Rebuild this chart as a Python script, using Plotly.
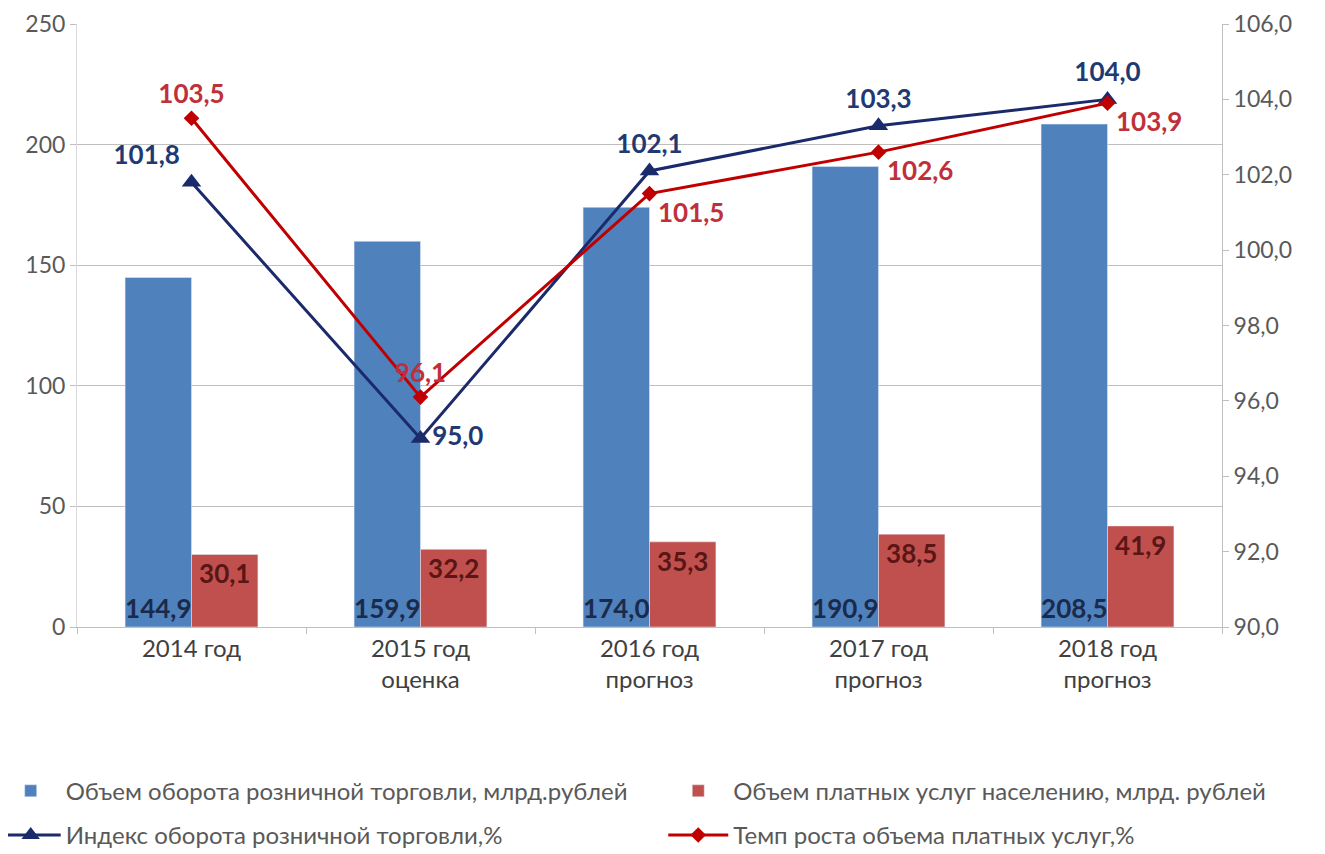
import plotly.graph_objects as go

categories = ["2014 год", "2015 год<br>оценка", "2016 год<br>прогноз", "2017 год<br>прогноз", "2018 год<br>прогноз"]
retail_volume = [144.9, 159.9, 174.0, 190.9, 208.5]
services_volume = [30.1, 32.2, 35.3, 38.5, 41.9]
retail_index = [101.8, 95.0, 102.1, 103.3, 104.0]
services_growth = [103.5, 96.1, 101.5, 102.6, 103.9]

names = [
    "Объем оборота розничной торговли, млрд.рублей",
    "Объем платных услуг населению, млрд. рублей",
    "Индекс оборота розничной торговли,%",
    "Темп роста объема платных услуг,%",
]

def fmt(v):
    return f"{v:.1f}".replace(".", ",")

FONT = "Lato"
LBL = 26
fig = go.Figure()

fig.add_trace(go.Bar(
    x=categories, y=retail_volume, name=names[0],
    legend="legend", legendgroup="a",
    marker=dict(color="#4F81BD"),
    text=[fmt(v) for v in retail_volume], textposition="inside",
    insidetextanchor="start", constraintext="none",
    textfont=dict(family=FONT, size=LBL, color="#1C2A4A", weight="bold"),
    textangle=0, cliponaxis=False,
))
fig.add_trace(go.Bar(
    x=categories, y=services_volume, name=names[1],
    legend="legend2", legendgroup="b",
    marker=dict(color="#C0504D"),
    text=[fmt(v) for v in services_volume], textposition="inside",
    insidetextanchor="end", constraintext="none",
    textfont=dict(family=FONT, size=LBL, color="#5A1515", weight="bold"),
    textangle=0, cliponaxis=False,
))
fig.add_trace(go.Scatter(
    x=categories, y=retail_index, name=names[2], yaxis="y2",
    legend="legend", legendgroup="c",
    mode="lines+markers+text",
    line=dict(color="#1B2A6B", width=3),
    marker=dict(symbol="triangle-up", size=17, color="#1B2A6B"),
    text=[fmt(v) for v in retail_index],
    textposition=["top left", "middle right", "top center", "top center", "top center"],
    textfont=dict(family=FONT, size=LBL, color="#1F3A73", weight="bold"),
    cliponaxis=False,
))
fig.add_trace(go.Scatter(
    x=categories, y=services_growth, name=names[3], yaxis="y2",
    legend="legend2", legendgroup="d",
    mode="lines+markers+text",
    line=dict(color="#C00000", width=3),
    marker=dict(symbol="diamond", size=12, color="#C00000"),
    text=[fmt(v) for v in services_growth],
    textposition=["top center", "top center", "bottom right", "bottom right", "bottom right"],
    textfont=dict(family=FONT, size=LBL, color="#C0303A", weight="bold"),
    cliponaxis=False,
))

legend_common = dict(
    orientation="v", yanchor="top", xanchor="left",
    font=dict(family=FONT, size=24, color="#595959"),
    tracegroupgap=10, itemwidth=60, bgcolor="rgba(0,0,0,0)",
)

fig.update_layout(
    width=1325, height=854,
    margin=dict(l=69, r=111, t=16, b=235, autoexpand=False),
    paper_bgcolor="white", plot_bgcolor="white",
    separators=", ",
    barmode="group", bargap=0.42, bargroupgap=0,
    font=dict(family=FONT, size=22, color="#595959"),
    showlegend=True,
    legend=dict(x=-0.071, y=-0.235, **legend_common),
    legend2=dict(x=0.512, y=-0.235, **legend_common),
    xaxis=dict(
        showline=True, linecolor="#BFBFBF", linewidth=1,
        ticks="outside", tickson="boundaries", ticklen=6, tickcolor="#BFBFBF",
        tickfont=dict(size=24, color="#404040"),
        showgrid=False,
    ),
    yaxis=dict(
        range=[0, 250], dtick=50, tickformat="d",
        showgrid=True, gridcolor="#BFBFBF", gridwidth=1,
        showline=True, linecolor="#D9D9D9", ticks="outside", ticklen=6,
        tickcolor="#BFBFBF",
        tickfont=dict(size=23, color="#595959"), zeroline=False,
    ),
    yaxis2=dict(
        overlaying="y", side="right", range=[90, 106], dtick=2,
        tickformat=".1f", showgrid=False,
        showline=True, linecolor="#BFBFBF", ticks="outside", ticklen=6,
        tickcolor="#BFBFBF",
        tickfont=dict(size=23, color="#595959"), zeroline=False,
    ),
)

fig.write_html("out.html")
